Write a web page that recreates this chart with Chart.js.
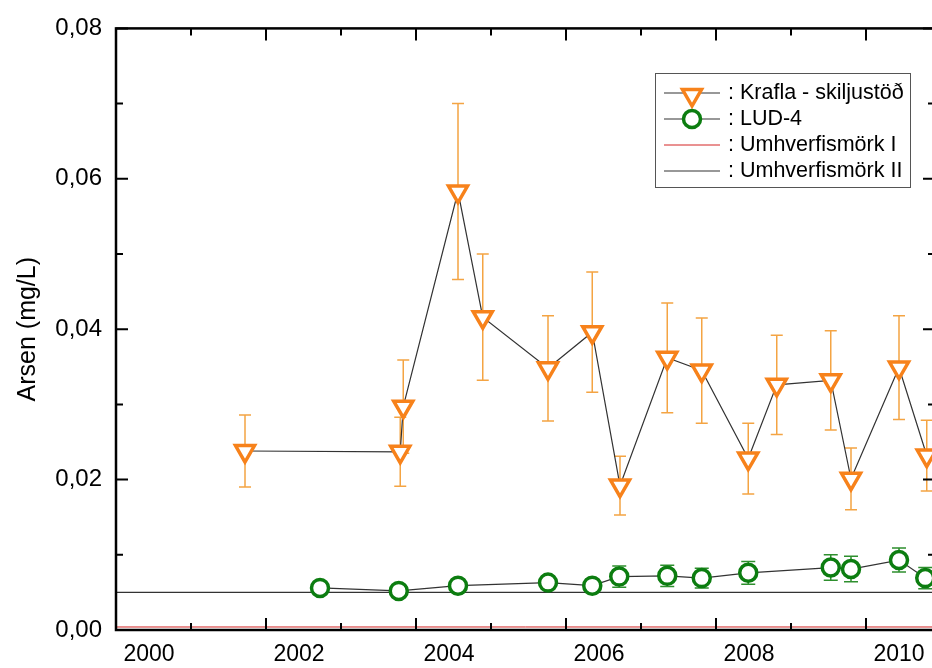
<!DOCTYPE html>
<html>
<head>
<meta charset="utf-8">
<script src="https://cdn.jsdelivr.net/npm/chart.js@4.4.1/dist/chart.umd.min.js"></script>
<style>
  html, body { margin: 0; padding: 0; overflow: hidden; background: #fff; }
  #wrap { width: 940px; height: 668px; }
</style>
</head>
<body>
<div id="wrap"><canvas id="arsen-chart"></canvas></div>
<script>
// Krafla - skiljustöð (decimal year, mg/L, +/- error)
var kraflaYears = [2001.72, 2003.79, 2003.83, 2004.56, 2004.89, 2005.76, 2006.35, 2006.72,
                   2007.35, 2007.81, 2008.43, 2008.81, 2009.53, 2009.80, 2010.44, 2010.81];
var kraflaArsen = [0.0238, 0.0237, 0.0297, 0.0583, 0.0416, 0.0348, 0.0396, 0.0192,
                   0.0362, 0.0345, 0.0228, 0.0326, 0.0332, 0.0201, 0.0349, 0.0232];
var kraflaErr   = [0.0048, 0.0046, 0.0062, 0.0117, 0.0084, 0.0070, 0.0080, 0.0039,
                   0.0073, 0.0070, 0.0047, 0.0066, 0.0066, 0.0041, 0.0069, 0.0047];

// LUD-4
var ludYears = [2002.72, 2003.77, 2004.56, 2005.76, 2006.35, 2006.71, 2007.35,
                2007.81, 2008.43, 2009.53, 2009.80, 2010.44, 2010.79];
var ludArsen = [0.0056, 0.0052, 0.0059, 0.0063, 0.0059, 0.0071, 0.0072,
                0.0069, 0.0076, 0.0083, 0.0081, 0.0093, 0.0069];
var ludErr   = [0.0008, 0.0008, 0.0008, 0.0008, 0.0008, 0.0014, 0.0014,
                0.0013, 0.0015, 0.0017, 0.0017, 0.0016, 0.0014];

// environmental limits (mg/L)
var limitI = 0.0004;
var limitII = 0.005;

// axis ranges
var xMin = 2000, xMax = 2010.92;
var yMin = 0, yMax = 0.08;

function pairs(xs, ys) {
  return xs.map(function (x, i) { return {x: x, y: ys[i]}; });
}

var orange = '#f7821b', orangeErr = '#f4a443';
var green = '#0c7d10', greenErr = '#2e8f2e';

// error bars, drawn under the datasets
var errorBars = {
  id: 'errorBars',
  beforeDatasetsDraw: function (chart) {
    var ctx = chart.ctx, xs = chart.scales.x, ys = chart.scales.y;
    ctx.save();
    chart.data.datasets.forEach(function (ds) {
      if (!ds.errors) return;
      ctx.strokeStyle = ds.errorColor;
      ctx.lineWidth = 1.5;
      ds.data.forEach(function (p, i) {
        var px = xs.getPixelForValue(p.x);
        var top = ys.getPixelForValue(p.y + ds.errors[i]);
        var bot = ys.getPixelForValue(p.y - ds.errors[i]);
        var w = ds.capWidth;
        ctx.beginPath();
        ctx.moveTo(px, top); ctx.lineTo(px, bot);
        ctx.moveTo(px - w, top); ctx.lineTo(px + w, top);
        ctx.moveTo(px - w, bot); ctx.lineTo(px + w, bot);
        ctx.stroke();
      });
    });
    ctx.restore();
  }
};

// frame with inward ticks on all four sides
var frameTicks = {
  id: 'frameTicks',
  afterDatasetsDraw: function (chart) {
    var ctx = chart.ctx, a = chart.chartArea, xs = chart.scales.x, ys = chart.scales.y;
    ctx.save();
    ctx.strokeStyle = '#000';
    ctx.lineWidth = 2;
    ctx.beginPath();
    for (var yr = Math.ceil(xMin); yr <= xMax; yr++) {
      var px = xs.getPixelForValue(yr), len = yr % 2 === 0 ? 12 : 7;
      ctx.moveTo(px, a.bottom); ctx.lineTo(px, a.bottom - len);
      ctx.moveTo(px, a.top); ctx.lineTo(px, a.top + len);
    }
    for (var k = 0; k <= 8; k++) {
      var py = ys.getPixelForValue(k / 100), l2 = k % 2 === 0 ? 12 : 7;
      ctx.moveTo(a.left, py); ctx.lineTo(a.left + l2, py);
      ctx.moveTo(a.right, py); ctx.lineTo(a.right - l2, py);
    }
    ctx.stroke();
    ctx.lineWidth = 2.5;
    ctx.strokeRect(a.left, a.top, a.right - a.left, a.bottom - a.top);
    ctx.restore();
  }
};

function drawMarker(ctx, ds, x, y) {
  var r = ds.pointRadius;
  if (!r) return;
  ctx.save();
  ctx.lineWidth = ds.pointBorderWidth;
  ctx.strokeStyle = ds.pointBorderColor;
  ctx.fillStyle = ds.pointBackgroundColor;
  ctx.beginPath();
  if (ds.pointStyle === 'triangle') {
    ctx.moveTo(x, y + r);
    ctx.lineTo(x - 0.866 * r, y - 0.5 * r);
    ctx.lineTo(x + 0.866 * r, y - 0.5 * r);
    ctx.closePath();
  } else {
    ctx.arc(x, y, r, 0, Math.PI * 2);
  }
  ctx.fill();
  ctx.stroke();
  ctx.restore();
}

// boxed legend in the upper right
var boxLegend = {
  id: 'boxLegend',
  afterDraw: function (chart) {
    var ctx = chart.ctx;
    var bx = 655, by = 73, bw = 255, bh = 114;
    ctx.save();
    ctx.fillStyle = '#fff';
    ctx.fillRect(bx, by, bw, bh);
    ctx.strokeStyle = '#555';
    ctx.lineWidth = 1;
    ctx.strokeRect(bx + 0.5, by + 0.5, bw, bh);
    ctx.font = "21.5px 'Liberation Sans', Arial, sans-serif";
    ctx.textBaseline = 'middle';
    chart.data.datasets.forEach(function (ds, i) {
      var ry = by + 20 + i * 26;
      ctx.strokeStyle = ds.borderColor;
      ctx.lineWidth = ds.borderWidth;
      ctx.beginPath();
      ctx.moveTo(664, ry); ctx.lineTo(720, ry);
      ctx.stroke();
      drawMarker(ctx, ds, 692, ry + (ds.pointStyle === 'triangle' ? 2 : 0));
      ctx.fillStyle = '#000';
      ctx.fillText(': ' + ds.label, 728, ry);
    });
    ctx.restore();
  }
};

Chart.defaults.font.family = "'Liberation Sans', Arial, sans-serif";
Chart.defaults.color = '#000';

var ctx = document.getElementById('arsen-chart');

var arsenChart = new Chart(ctx, {
  type: 'line',
  data: {
    datasets: [
      {
        label: 'Krafla - skiljustöð',
        data: pairs(kraflaYears, kraflaArsen),
        errors: kraflaErr, errorColor: orangeErr, capWidth: 6,
        borderColor: '#333', borderWidth: 1.2,
        pointStyle: 'triangle', pointRotation: 180, pointRadius: 11,
        pointBorderWidth: 3.5, pointBorderColor: orange, pointBackgroundColor: '#fff'
      }, {
        label: 'LUD-4',
        data: pairs(ludYears, ludArsen),
        errors: ludErr, errorColor: greenErr, capWidth: 7,
        borderColor: '#333', borderWidth: 1.2,
        pointStyle: 'circle', pointRadius: 8.5,
        pointBorderWidth: 3.5, pointBorderColor: green, pointBackgroundColor: '#fff'
      }, {
        label: 'Umhverfismörk I',
        data: pairs([xMin, xMax], [limitI, limitI]),
        borderColor: '#d42424', borderWidth: 1, pointRadius: 0
      }, {
        label: 'Umhverfismörk II',
        data: pairs([xMin, xMax], [limitII, limitII]),
        borderColor: '#333', borderWidth: 1.2, pointRadius: 0
      }
    ]
  },
  options: {
    responsive: true, maintainAspectRatio: false, animation: false,
    layout: {autoPadding: false, padding: {top: 23, right: 5, left: 0, bottom: 0}},
    plugins: {legend: {display: false}, title: {display: false}, tooltip: {enabled: false}},
    elements: {line: {tension: 0}},
    scales: {
      x: {
        type: 'linear', min: xMin, max: xMax,
        grid: {display: false, drawTicks: false}, border: {display: false},
        ticks: {
          stepSize: 1, includeBounds: false, autoSkip: false, maxRotation: 0,
          labelOffset: 33, padding: 11, font: {size: 23},
          callback: function (v) {
            var r = Math.round(v);
            return Math.abs(v - r) < 1e-6 && r % 2 === 0 ? String(r) : '';
          }
        },
        afterFit: function (s) { s.height = 38; s.paddingLeft = 0; s.paddingRight = 0; }
      },
      y: {
        min: yMin, max: yMax,
        grid: {display: false, drawTicks: false}, border: {display: false},
        ticks: {
          stepSize: 0.01, autoSkip: false, padding: 14, font: {size: 24},
          callback: function (v) {
            var k = Math.round(v * 100);
            return k % 2 === 0 ? (k / 100).toFixed(2).replace('.', ',') : '';
          }
        },
        title: {display: true, text: 'Arsen (mg/L)', font: {size: 25}, padding: {top: 13, bottom: 0}},
        afterFit: function (s) { s.width = 116; }
      }
    }
  },
  plugins: [errorBars, frameTicks, boxLegend]
});
</script>
</body>
</html>
